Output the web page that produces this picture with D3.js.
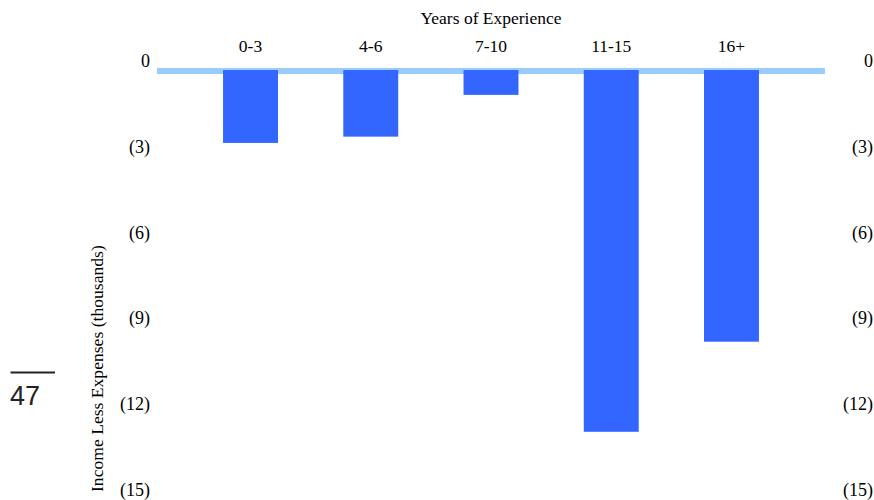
<!DOCTYPE html>
<html>
<head>
<meta charset="utf-8">
<script src="https://cdn.jsdelivr.net/npm/d3@7"></script>
<style>
  body { margin: 0; background: #fff; }
  svg text { font-family: "Liberation Serif", "Times New Roman", serif; fill: #000; }
</style>
</head>
<body>
<svg id="chart" width="874" height="500"></svg>
<script>
// chart data
var categories = ["0-3", "4-6", "7-10", "11-15", "16+"];
var values = [-2.55, -2.33, -0.87, -12.65, -9.5];     // income less expenses, thousands
var y_ticks = [0, -3, -6, -9, -12, -15];

var svg = d3.select("#chart");

var x = d3.scaleBand()
          .domain(categories)
          .range([190.4, 791.6])
          .paddingInner(0.543)
          .paddingOuter(0.2715);

var y = d3.scaleLinear()
          .domain([0, -15])
          .range([70, 499]);

function fmt(v) {
    return v === 0 ? "0" : "(" + Math.abs(v) + ")";
}

// zero line
svg.append("line")
   .attr("x1", 157)
   .attr("x2", 825)
   .attr("y1", y(0) + 1)
   .attr("y2", y(0) + 1)
   .attr("stroke", "#99ccff")
   .attr("stroke-width", 6);

// bars
svg.selectAll(".bar")
   .data(values)
   .enter()
   .append("rect")
   .attr("class", "bar")
   .attr("x", (d, i) => x(categories[i]))
   .attr("width", x.bandwidth())
   .attr("y", d => y(Math.max(0, d)))
   .attr("height", d => Math.abs(y(d) - y(0)))
   .attr("fill", "#3366ff");

// category labels on top
svg.selectAll(".cat")
   .data(categories)
   .enter()
   .append("text")
   .attr("class", "cat")
   .attr("x", d => x(d) + x.bandwidth() / 2)
   .attr("y", 52)
   .attr("text-anchor", "middle")
   .style("font-size", "17.5px")
   .text(d => d);

// x title
svg.append("text")
   .attr("x", (x.range()[0] + x.range()[1]) / 2)
   .attr("y", 24)
   .attr("text-anchor", "middle")
   .style("font-size", "17.5px")
   .text("Years of Experience");

// y tick labels, both sides
[150, 873].forEach(function(xpos) {
    svg.selectAll(null)
       .data(y_ticks)
       .enter()
       .append("text")
       .attr("x", xpos)
       .attr("y", d => y(d) - 3)
       .attr("text-anchor", "end")
       .style("font-size", "18px")
       .text(fmt);
});

// y title
svg.append("text")
   .attr("transform", "translate(103,492) rotate(-90)")
   .attr("text-anchor", "start")
   .style("font-size", "17.6px")
   .text("Income Less Expenses (thousands)");

// page number mark
svg.append("line")
   .attr("x1", 10.5)
   .attr("x2", 55)
   .attr("y1", 372.5)
   .attr("y2", 372.5)
   .attr("stroke", "#222")
   .attr("stroke-width", 2);

svg.append("text")
   .attr("x", 10)
   .attr("y", 405)
   .style("font-family", "'Liberation Sans', Arial, sans-serif")
   .style("font-size", "27px")
   .style("fill", "#222")
   .text("47");
</script>
</body>
</html>
